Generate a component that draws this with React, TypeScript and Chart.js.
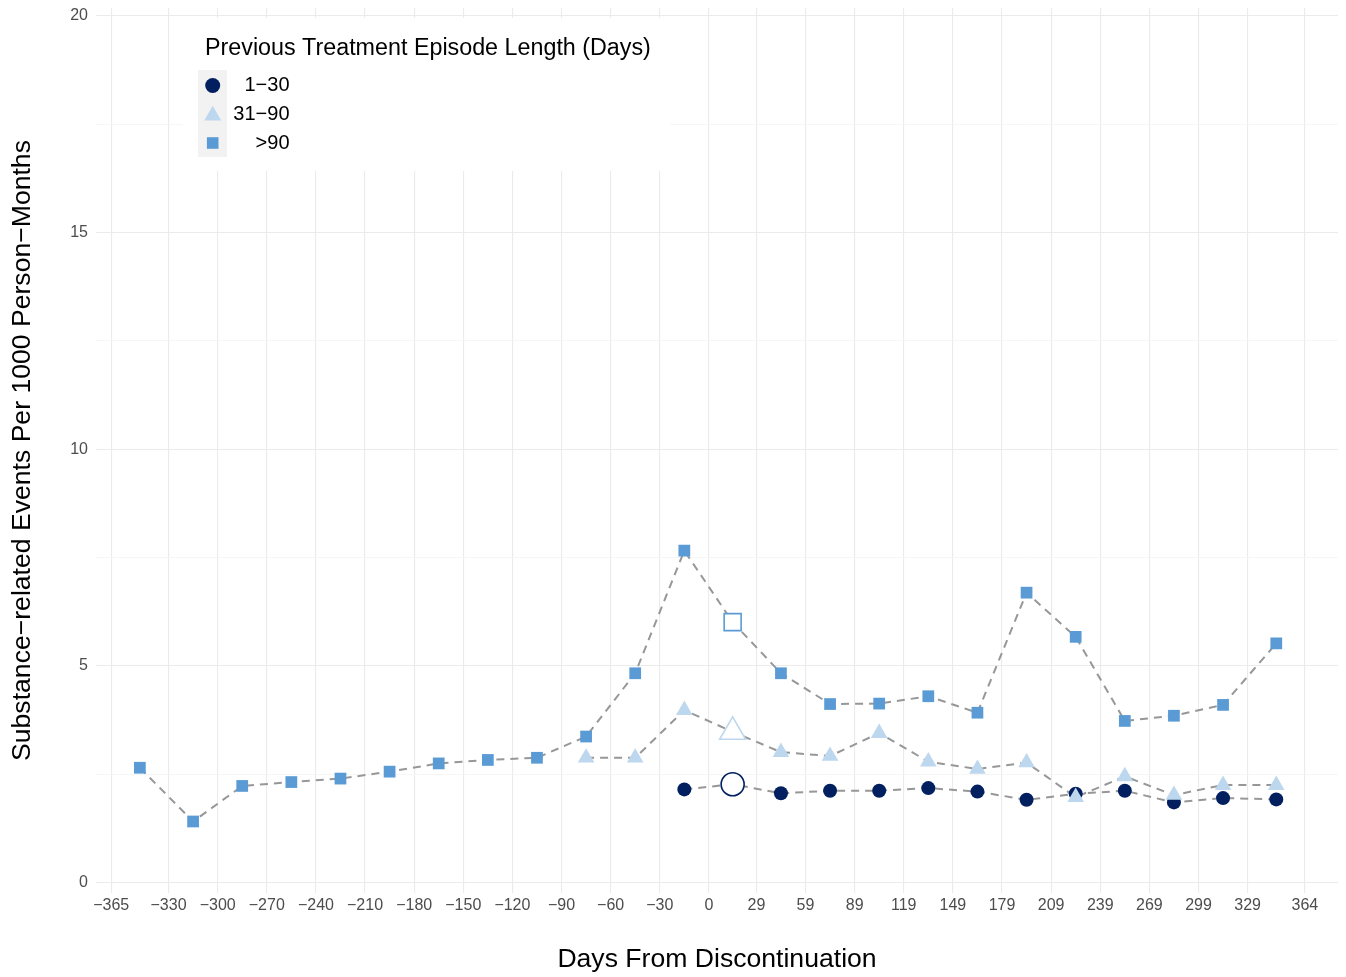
import React, { useEffect, useRef } from 'react';
import { Chart, registerables } from 'chart.js';

Chart.register(...registerables);

// ---- data ----
const xTickValues = [-365, -330, -300, -270, -240, -210, -180, -150, -120, -90, -60, -30, 0, 29, 59, 89, 119, 149, 179, 209, 239, 269, 299, 329, 364];
const yTickValues = [0, 2.5, 5, 7.5, 10, 12.5, 15, 17.5, 20];
const yLabelledTicks = [0, 5, 10, 15, 20];

// mid-point (days) of each period
const periodMid = [-347.5, -315, -285, -255, -225, -195, -165, -135, -105, -75, -45, -15, 14.5, 44, 74, 104, 134, 164, 194, 224, 254, 284, 314, 346.5];
const discontinuationMid = 14.5;

const ratesOver90 = [2.65, 1.41, 2.23, 2.32, 2.40, 2.56, 2.75, 2.83, 2.88, 3.37, 4.83, 7.66, 6.01, 4.83, 4.12, 4.13, 4.30, 3.92, 6.69, 5.67, 3.73, 3.85, 4.10, 5.52];
const rates31to90 = [null, null, null, null, null, null, null, null, null, 2.88, 2.88, 3.98, 3.48, 3.01, 2.92, 3.45, 2.79, 2.62, 2.77, 1.97, 2.45, 2.02, 2.25, 2.25];
const rates1to30 = [null, null, null, null, null, null, null, null, null, null, null, 2.15, 2.27, 2.06, 2.12, 2.12, 2.18, 2.10, 1.91, 2.05, 2.12, 1.85, 1.95, 1.92];

const seriesNames = ['1−30', '31−90', '>90'];
const seriesColors = ['#02205F', '#BDD7EE', '#5B9BD5'];
const legendTitle = 'Previous Treatment Episode Length (Days)';
const xTitle = 'Days From Discontinuation';
const yTitle = 'Substance−related Events Per 1000 Person−Months';

const FONT = '"Liberation Sans", Arial, Helvetica, sans-serif';

// panel geometry (ggplot-like fixed margins)
const PANEL_LEFT = 96;
const PANEL_TOP = 8;
const PANEL_RIGHT_GAP = 8;
const X_AXIS_HEIGHT = 84;

function toPoints(values: (number | null)[]) {
  const out: { x: number; y: number }[] = [];
  values.forEach((v, i) => {
    if (v !== null && v !== undefined) out.push({ x: periodMid[i], y: v });
  });
  return out;
}

function drawTriangle(ctx: CanvasRenderingContext2D, x: number, y: number, r: number) {
  ctx.beginPath();
  for (let k = 0; k < 3; k++) {
    const a = -Math.PI / 2 + (k * 2 * Math.PI) / 3;
    const px = x + Math.cos(a) * r;
    const py = y + Math.sin(a) * r;
    if (k === 0) ctx.moveTo(px, py);
    else ctx.lineTo(px, py);
  }
  ctx.closePath();
}

const fixLayoutPlugin = {
  id: 'fixLayout',
  afterLayout(chart: any) {
    const ca = chart.chartArea;
    const top = PANEL_TOP;
    const right = chart.width - PANEL_RIGHT_GAP;
    const left = PANEL_LEFT;
    const bottom = chart.height - X_AXIS_HEIGHT;
    ca.left = left;
    ca.top = top;
    ca.right = right;
    ca.bottom = bottom;
    ca.width = right - left;
    ca.height = bottom - top;
    const xs = chart.scales.x;
    xs.left = left;
    xs.right = right;
    xs.width = right - left;
    xs.top = bottom;
    xs.bottom = chart.height;
    xs.height = chart.height - bottom;
    xs.configure();
    const ys = chart.scales.y;
    ys.left = 0;
    ys.right = left;
    ys.width = left;
    ys.top = top;
    ys.bottom = bottom;
    ys.height = bottom - top;
    ys.configure();
  },
};

const legendPlugin = {
  id: 'ggLegend',
  afterDraw(chart: any) {
    const { ctx, chartArea } = chart;
    const L = chartArea.left;
    const T = chartArea.top;
    ctx.save();
    // legend background
    ctx.fillStyle = '#FFFFFF';
    ctx.fillRect(L + 87, T + 10, 487, 153);
    // title
    ctx.fillStyle = '#000000';
    ctx.font = `23.3px ${FONT}`;
    ctx.textAlign = 'left';
    ctx.textBaseline = 'middle';
    ctx.fillText(legendTitle, L + 109, T + 40.5);
    // key background
    ctx.fillStyle = '#F2F2F2';
    ctx.fillRect(L + 102, T + 62, 29, 87);
    const kx = L + 116.7;
    const rows = [T + 77.5, T + 106, T + 135];
    // circle
    ctx.fillStyle = seriesColors[0];
    ctx.beginPath();
    ctx.arc(kx, rows[0], 7.5, 0, Math.PI * 2);
    ctx.fill();
    // triangle
    ctx.fillStyle = seriesColors[1];
    drawTriangle(ctx, kx, rows[1] + 1.5, 9.8);
    ctx.fill();
    // square
    ctx.fillStyle = seriesColors[2];
    ctx.fillRect(kx - 5.8, rows[2] - 5.8, 11.6, 11.6);
    // labels
    ctx.fillStyle = '#000000';
    ctx.font = `20px ${FONT}`;
    ctx.textAlign = 'right';
    seriesNames.forEach((n, i) => ctx.fillText(n, L + 193.5, rows[i]));
    ctx.restore();
  },
};

const isHollow = (ctx: any) => ctx.raw && ctx.raw.x === discontinuationMid;

function pointDataset(label: string, values: (number | null)[], color: string, style: string, r: number, rBig: number, order: number) {
  return {
    label,
    data: toPoints(values),
    showLine: false,
    order,
    pointStyle: style,
    pointRadius: (c: any) => (isHollow(c) ? rBig : r),
    pointHoverRadius: (c: any) => (isHollow(c) ? rBig : r),
    pointBackgroundColor: (c: any) => (isHollow(c) ? '#FFFFFF' : color),
    pointBorderColor: color,
    pointBorderWidth: (c: any) => (isHollow(c) ? 1.6 : 0),
    backgroundColor: color,
    borderColor: color,
  };
}

function lineDataset(label: string, values: (number | null)[]) {
  return {
    label,
    data: toPoints(values),
    showLine: true,
    order: 10,
    pointRadius: 0,
    pointHoverRadius: 0,
    borderColor: '#979797',
    borderWidth: 2,
    borderDash: [8, 6],
    fill: false,
    tension: 0,
  };
}

export default function App() {
  const canvasRef = useRef<HTMLCanvasElement | null>(null);

  useEffect(() => {
    if (!canvasRef.current) return;
    const chart = new Chart(canvasRef.current, {
      type: 'scatter',
      data: {
        datasets: [
          lineDataset(seriesNames[2] + ' line', ratesOver90),
          lineDataset(seriesNames[1] + ' line', rates31to90),
          lineDataset(seriesNames[0] + ' line', rates1to30),
          pointDataset(seriesNames[2], ratesOver90, seriesColors[2], 'rect', 8.3, 12, 3),
          pointDataset(seriesNames[0], rates1to30, seriesColors[0], 'circle', 7, 11.5, 2),
          pointDataset(seriesNames[1], rates31to90, seriesColors[1], 'triangle', 9.6, 15, 1),
        ] as any,
      },
      options: {
        animation: false,
        responsive: false,
        devicePixelRatio: 1,
        events: [],
        layout: { padding: 0 },
        plugins: {
          legend: { display: false },
          tooltip: { enabled: false },
        },
        scales: {
          x: {
            type: 'linear',
            min: -374.3,
            max: 384.2,
            bounds: 'data',
            afterBuildTicks: (scale: any) => {
              scale.ticks = xTickValues.map((v) => ({ value: v }));
            },
            afterFit: (scale: any) => {
              scale.height = X_AXIS_HEIGHT;
            },
            ticks: {
              autoSkip: false,
              maxRotation: 0,
              minRotation: 0,
              padding: 3,
              color: '#4D4D4D',
              font: { family: FONT, size: 16 },
              callback: (v: any) => String(v).replace('-', '−'),
            },
            grid: { color: '#EBEBEB', lineWidth: 1.1, drawTicks: false },
            border: { display: false },
            title: {
              display: true,
              text: xTitle,
              color: '#000000',
              font: { family: FONT, size: 26.6 },
              padding: { top: 0, bottom: 1.5 },
            },
          },
          y: {
            type: 'linear',
            min: -0.24,
            max: 20.18,
            bounds: 'data',
            afterBuildTicks: (scale: any) => {
              scale.ticks = yTickValues.map((v) => ({ value: v }));
            },
            afterFit: (scale: any) => {
              scale.width = PANEL_LEFT;
            },
            ticks: {
              autoSkip: false,
              padding: 8,
              color: '#4D4D4D',
              font: { family: FONT, size: 16 },
              callback: (v: any) => (yLabelledTicks.includes(Number(v)) ? String(v) : ''),
            },
            grid: {
              drawTicks: false,
              color: (c: any) => (c.tick && yLabelledTicks.includes(c.tick.value) ? '#EBEBEB' : '#F4F4F4'),
              lineWidth: (c: any) => (c.tick && yLabelledTicks.includes(c.tick.value) ? 1.1 : 0.8),
            },
            border: { display: false },
            title: {
              display: true,
              text: yTitle,
              color: '#000000',
              font: { family: FONT, size: 26.6 },
              padding: { top: 7, bottom: 0 },
            },
          },
        },
      },
      plugins: [fixLayoutPlugin, legendPlugin],
    } as any);
    return () => chart.destroy();
  }, []);

  return (
    <div style={{ position: 'fixed', left: 0, top: 0, width: 1346, height: 977, background: '#FFFFFF' }}>
      <canvas ref={canvasRef} width={1346} height={977} style={{ display: 'block' }} />
    </div>
  );
}
